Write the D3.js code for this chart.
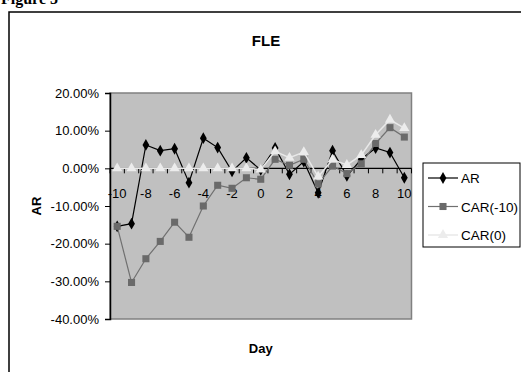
<!DOCTYPE html>
<html>
<head>
<meta charset="utf-8">
<script src="https://cdn.jsdelivr.net/npm/d3@7"></script>
<style>
	body { margin: 0; background: #fff; }
	svg { display: block; }
</style>
</head>
<body>
<div id="viz"></div>
<script>
// data (percent)
const days = [-10, -9, -8, -7, -6, -5, -4, -3, -2, -1, 0, 1, 2, 3, 4, 5, 6, 7, 8, 9, 10];
const ar = [-15.4, -14.7, 6.2, 4.7, 5.2, -3.8, 8.0, 5.5, -0.8, 2.8, -0.4, 5.4, -1.6, 1.8, -6.5, 4.7, -2.0, 2.4, 5.4, 4.2, -2.5];
const car10 = [-15.4, -30.3, -24.0, -19.4, -14.3, -18.3, -10.0, -4.5, -5.3, -2.5, -2.9, 2.4, 0.8, 2.4, -4.1, 0.6, -1.4, 1.2, 6.6, 10.8, 8.3];
const car0 = [0, 0, 0, 0, 0, 0, 0, 0, 0, 0, -0.3, 4.5, 2.8, 4.3, -2.2, 2.3, 0.9, 3.5, 8.9, 12.9, 10.7];
const yTicks = [-40, -30, -20, -10, 0, 10, 20];
const xLabels = [-10, -8, -6, -4, -2, 0, 2, 4, 6, 8, 10];
const seriesNames = ["AR", "CAR(-10)", "CAR(0)"];

function draw() {
	let width = 521, height = 372;
	let left = 110, right = 411.5, top = 93, bottom = 319;
	let font = "Liberation Sans, Arial, sans-serif";

	let svg = d3.select("#viz").append("svg")
		.attr("width", width).attr("height", height);

	// caption cut off at the top
	svg.append("text").text("Figure 5")
		.attr("x", 1).attr("y", 4)
		.style("font-family", "Liberation Serif, Times New Roman, serif")
		.style("font-weight", "bold")
		.style("font-size", "16px");

	// outer frame (runs off the right and bottom)
	svg.append("rect")
		.attr("x", 9).attr("y", 12)
		.attr("width", 530).attr("height", 400)
		.style("fill", "none")
		.style("stroke", "#000")
		.style("stroke-width", 1.5);

	let x = d3.scaleBand().domain(days).range([left, right]);
	let bw = x.bandwidth();
	let cx = d => x(d) + bw / 2;
	let y = d3.scaleLinear().domain([-40, 20]).range([bottom, top]);

	// plot area
	svg.append("rect")
		.attr("x", left).attr("y", top)
		.attr("width", right - left).attr("height", bottom - top)
		.style("fill", "#c0c0c0")
		.style("stroke", "#808080")
		.style("stroke-width", 1.5);

	// y axis
	let yAxis = svg.append("g")
		.attr("transform", "translate(" + left + ",0)")
		.call(d3.axisLeft(y).tickValues(yTicks).tickSize(5).tickPadding(6)
			.tickFormat(d => d.toFixed(2) + "%"));
	yAxis.select(".domain").attr("stroke", "#000").attr("stroke-width", 1.5);
	yAxis.selectAll("text")
		.style("font-family", font).style("font-size", "13px").attr("fill", "#000");

	// x axis at 0
	let y0 = y(0);
	let xAxis = svg.append("g");
	xAxis.append("line")
		.attr("x1", left).attr("x2", right)
		.attr("y1", y0).attr("y2", y0)
		.attr("stroke", "#000").attr("stroke-width", 1.2);
	xAxis.selectAll("line.tk")
		.data(days.concat(["end"]))
		.enter().append("line")
		.attr("class", "tk")
		.attr("x1", d => d === "end" ? right : x(d))
		.attr("x2", d => d === "end" ? right : x(d))
		.attr("y1", y0).attr("y2", y0 + 5)
		.attr("stroke", "#000").attr("stroke-width", 1);
	xAxis.selectAll("text")
		.data(xLabels)
		.enter().append("text")
		.text(d => d)
		.attr("x", d => cx(d)).attr("y", y0 + 30)
		.attr("text-anchor", "middle")
		.style("font-family", font).style("font-size", "13px");

	let line = d3.line().x((v, i) => cx(days[i])).y(v => y(v));

	let diamond = d3.symbol().type(d3.symbolDiamond).size(40);
	let square = d3.symbol().type(d3.symbolSquare).size(50);
	let triangle = d3.symbol().type(d3.symbolTriangle).size(45);

	let series = [
		{ vals: ar, color: "#000", mcolor: "#000", sym: diamond, w: 1.2 },
		{ vals: car10, color: "#707070", mcolor: "#6a6a6a", sym: square, w: 1.2 },
		{ vals: car0, color: "#e8e8e8", mcolor: "#ececec", sym: triangle, w: 1.5 }
	];

	series.forEach(s => {
		svg.append("path")
			.attr("d", line(s.vals))
			.style("fill", "none")
			.style("stroke", s.color)
			.style("stroke-width", s.w);
		svg.selectAll(null)
			.data(s.vals)
			.enter().append("path")
			.attr("d", s.sym)
			.attr("transform", (v, i) => "translate(" + cx(days[i]) + "," + y(v) + ")")
			.style("fill", s.mcolor);
	});

	// titles
	svg.append("text").text("FLE")
		.attr("x", 266).attr("y", 46)
		.attr("text-anchor", "middle")
		.style("font-family", font).style("font-weight", "bold").style("font-size", "15px");

	svg.append("text").text("AR")
		.attr("transform", "translate(41," + ((top + bottom) / 2) + ") rotate(-90)")
		.attr("text-anchor", "middle")
		.style("font-family", font).style("font-weight", "bold").style("font-size", "13px");

	svg.append("text").text("Day")
		.attr("x", (left + right) / 2).attr("y", 353)
		.attr("text-anchor", "middle")
		.style("font-family", font).style("font-weight", "bold").style("font-size", "13px");

	// legend
	let lg = svg.append("g");
	lg.append("rect")
		.attr("x", 423).attr("y", 163)
		.attr("width", 97).attr("height", 84)
		.style("fill", "#fff")
		.style("stroke", "#000")
		.style("stroke-width", 1);
	series.forEach((s, i) => {
		let ly = 178 + i * 28.5;
		lg.append("line")
			.attr("x1", 428).attr("x2", 458)
			.attr("y1", ly).attr("y2", ly)
			.style("stroke", s.color).style("stroke-width", s.w);
		lg.append("path")
			.attr("d", s.sym)
			.attr("transform", "translate(443," + ly + ")")
			.style("fill", s.mcolor);
		lg.append("text").text(seriesNames[i])
			.attr("x", 461).attr("y", ly + 5)
			.style("font-family", font).style("font-size", "13.5px");
	});
}
draw();
</script>
</body>
</html>
